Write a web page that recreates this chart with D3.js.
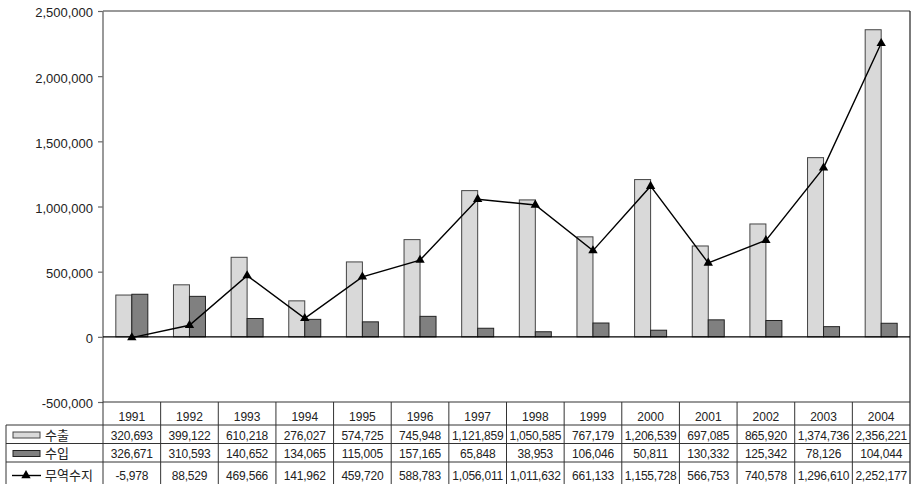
<!DOCTYPE html>
<html>
<head>
<meta charset="utf-8">
<script src="https://cdn.jsdelivr.net/npm/d3@7"></script>
<style>
	html, body { margin: 0; padding: 0; background: #fff; }
	svg text { font-family: "Liberation Sans", "Noto Sans CJK KR", sans-serif; fill: #222; }
</style>
</head>
<body>
<div id="chart"></div>
<script>

// data
let years = ["1991","1992","1993","1994","1995","1996","1997","1998","1999","2000","2001","2002","2003","2004"];
let exportVals = [320693, 399122, 610218, 276027, 574725, 745948, 1121859, 1050585, 767179, 1206539, 697085, 865920, 1374736, 2356221];
let importVals = [326671, 310593, 140652, 134065, 115005, 157165, 65848, 38953, 106046, 50811, 130332, 125342, 78126, 104044];
let balanceVals = [-5978, 88529, 469566, 141962, 459720, 588783, 1056011, 1011632, 661133, 1155728, 566753, 740578, 1296610, 2252177];
let seriesNames = ["수출", "수입", "무역수지"];
let yTicks = [-500000, 0, 500000, 1000000, 1500000, 2000000, 2500000];

function drawChart(){

	const width = 912;
	const height = 484;

	const left = 103, right = 910, top = 11, bottom = 402;

	//row tops of the table (year row is a bit taller)
	const rowTop = [402, 425, 443.5, 462];
	const rowBase = [421, 439.5, 458, 480];

	let svg = d3.select("#chart")
		.append("svg")
		.attr("width", width)
		.attr("height", height);

	let x = d3.scaleBand()
		.domain(years)
		.range([left, right]);

	let bw = x.bandwidth();

	//the two bars sit in the middle of each year column
	let xSub = d3.scaleBand()
		.domain(["수출", "수입"])
		.range([bw / 2 - 16, bw / 2 + 16]);

	let y = d3.scaleLinear()
		.domain([-500000, 2500000])
		.range([bottom, top]);

	let fmt = d => d3.format(",")(d).replace("−", "-");

	// unit label, mostly cut by the top edge
	svg.append("text")
		.attr("x", 908)
		.attr("y", -5)
		.attr("text-anchor", "end")
		.attr("font-size", 13)
		.text("(단위 : 천 달러)");

	// y axis
	let yAxis = d3.axisLeft(y)
		.tickValues(yTicks)
		.tickSize(5)
		.tickFormat(fmt);

	let gy = svg.append("g")
		.attr("transform", "translate(" + left + ",0)")
		.call(yAxis);

	gy.select(".domain").remove();
	gy.selectAll(".tick line").attr("stroke", "#666").attr("stroke-width", 1.2);
	gy.selectAll(".tick text")
		.attr("x", -10)
		.attr("dy", "0.45em")
		.attr("font-size", 13)
		.attr("fill", "#222")
		.style("font-family", "Liberation Sans, sans-serif");

	// frame
	svg.append("line")
		.attr("x1", left).attr("x2", left)
		.attr("y1", top).attr("y2", bottom)
		.attr("stroke", "#777").attr("stroke-width", 1.5);
	svg.append("line")
		.attr("x1", left).attr("x2", right)
		.attr("y1", top).attr("y2", top)
		.attr("stroke", "#777").attr("stroke-width", 1.5);
	svg.append("line")
		.attr("x1", right).attr("x2", right)
		.attr("y1", top).attr("y2", height)
		.attr("stroke", "#222").attr("stroke-width", 1.2);

	// bars
	let bars = svg.append("g").attr("class", "bars");

	bars.selectAll(".bar-exp")
		.data(exportVals)
		.enter()
		.append("rect")
		.attr("x", (d, i) => x(years[i]) + xSub("수출"))
		.attr("y", d => y(Math.max(d, 0)))
		.attr("width", xSub.bandwidth())
		.attr("height", d => Math.abs(y(d) - y(0)))
		.attr("fill", "#d9d9d9")
		.attr("stroke", "#444")
		.attr("stroke-width", 1);

	bars.selectAll(".bar-imp")
		.data(importVals)
		.enter()
		.append("rect")
		.attr("x", (d, i) => x(years[i]) + xSub("수입"))
		.attr("y", d => y(Math.max(d, 0)))
		.attr("width", xSub.bandwidth())
		.attr("height", d => Math.abs(y(d) - y(0)))
		.attr("fill", "#808080")
		.attr("stroke", "#222")
		.attr("stroke-width", 1);

	// zero line
	svg.append("line")
		.attr("x1", left).attr("x2", right)
		.attr("y1", y(0)).attr("y2", y(0))
		.attr("stroke", "#000").attr("stroke-width", 1.2);

	// balance line
	let line = d3.line()
		.x((d, i) => x(years[i]) + bw / 2)
		.y(d => y(d));

	svg.append("path")
		.datum(balanceVals)
		.attr("d", line)
		.attr("fill", "none")
		.attr("stroke", "#000")
		.attr("stroke-width", 1.4);

	let tri = d3.symbol().type(d3.symbolTriangle).size(38);

	svg.selectAll(".marker")
		.data(balanceVals)
		.enter()
		.append("path")
		.attr("d", tri)
		.attr("transform", (d, i) => "translate(" + (x(years[i]) + bw / 2) + "," + y(d) + ")")
		.attr("fill", "#000");

	// data table
	let table = svg.append("g").attr("class", "table");
	let lineCol = "#333";

	// horizontal rules
	table.append("line")
		.attr("x1", left).attr("x2", right)
		.attr("y1", bottom).attr("y2", bottom)
		.attr("stroke", lineCol).attr("stroke-width", 1.2);
	for(let r = 1; r <= 3; r++){
		table.append("line")
			.attr("x1", 6).attr("x2", right)
			.attr("y1", rowTop[r]).attr("y2", rowTop[r])
			.attr("stroke", lineCol).attr("stroke-width", 1);
	}

	// vertical rules
	table.append("line")
		.attr("x1", 6).attr("x2", 6)
		.attr("y1", rowTop[1]).attr("y2", height)
		.attr("stroke", lineCol).attr("stroke-width", 1);
	table.selectAll(".vrule")
		.data(years)
		.enter()
		.append("line")
		.attr("x1", d => x(d)).attr("x2", d => x(d))
		.attr("y1", bottom).attr("y2", height)
		.attr("stroke", lineCol).attr("stroke-width", 1);

	// year row
	table.selectAll(".year")
		.data(years)
		.enter()
		.append("text")
		.attr("x", d => x(d) + bw / 2)
		.attr("y", rowBase[0])
		.attr("text-anchor", "middle")
		.attr("font-size", 12)
		.text(d => d);

	let rows = [exportVals, importVals, balanceVals];

	rows.forEach(function(vals, r){
		let base = rowBase[r + 1];
		let cy = base - 4.5;
		table.selectAll(".val-" + r)
			.data(vals)
			.enter()
			.append("text")
			.attr("x", (d, i) => x(years[i]) + bw / 2)
			.attr("y", base)
			.attr("text-anchor", "middle")
			.attr("font-size", 12)
			.attr("letter-spacing", -0.2)
			.text(d => fmt(d));

		// legend key in the first column
		if(r < 2){
			table.append("rect")
				.attr("x", 13)
				.attr("y", cy - 3)
				.attr("width", 27)
				.attr("height", 6)
				.attr("fill", r == 0 ? "#d9d9d9" : "#808080")
				.attr("stroke", r == 0 ? "#444" : "#222");
		} else {
			table.append("line")
				.attr("x1", 12).attr("x2", 41)
				.attr("y1", cy).attr("y2", cy)
				.attr("stroke", "#000").attr("stroke-width", 1.4);
			table.append("path")
				.attr("d", tri)
				.attr("transform", "translate(26," + cy + ")")
				.attr("fill", "#000");
		}

		table.append("text")
			.attr("x", 45)
			.attr("y", base)
			.attr("font-size", 13)
			.style("font-family", "Noto Sans CJK KR, sans-serif")
			.text(seriesNames[r]);
	});
}

drawChart();
</script>
</body>
</html>
